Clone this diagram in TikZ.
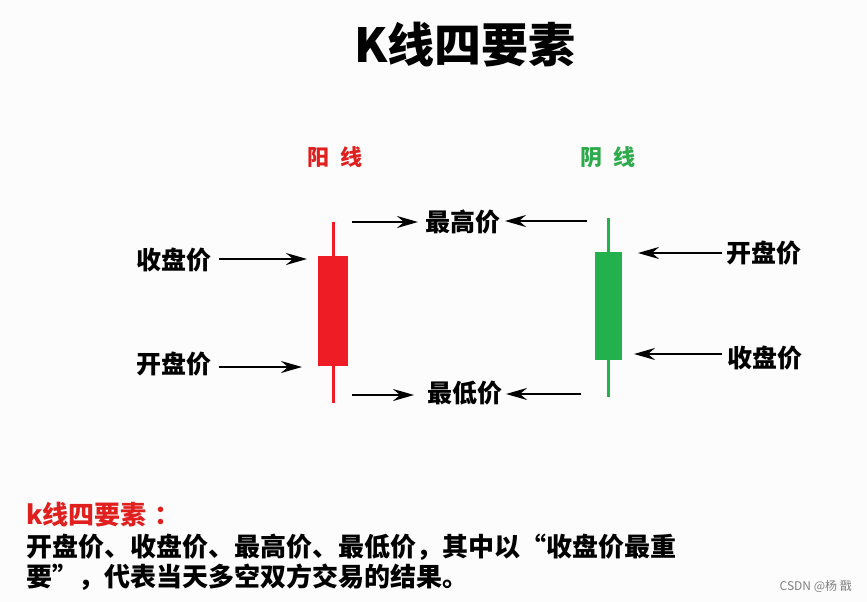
\documentclass[tikz,border=0pt]{standalone}
\usepackage{fontspec}
\setmainfont{Noto Sans CJK SC}
\usetikzlibrary{arrows.meta}
\definecolor{kred}{HTML}{EE1C24}
\definecolor{kgreen}{HTML}{22B14C}
\definecolor{tred}{HTML}{E0201F}
\definecolor{tgreen}{HTML}{2DAA4A}
\definecolor{bg}{HTML}{FCFCFD}
\tikzset{
  lbl/.style={font=\fontsize{25}{27}\selectfont\bfseries, inner sep=0pt},
  arr/.style={-{Stealth[length=21pt,width=12pt,inset=7pt]}, line width=2.2pt, black},
  wick/.style={line width=3pt},
}
\begin{document}
\begin{tikzpicture}[x=1pt,y=-1pt]
\fill[bg] (0,0) rectangle (867,602);
\useasboundingbox (0,0) rectangle (867,602);
% title
\node[font=\fontsize{47}{50}\selectfont\bfseries, inner sep=0pt] (title) at (465,45) {K线四要素};
\node[font=\fontsize{22}{24}\selectfont\bfseries, text=tred, inner sep=0pt] (yang) at (335,157) {阳\hspace{0.5em}线};
\node[font=\fontsize{22}{24}\selectfont\bfseries, text=tgreen, inner sep=0pt] (yin) at (608,157) {阴\hspace{0.5em}线};
% red candle
\coordinate (rtop) at (333,222);
\coordinate (rbot) at (333,403);
\draw[wick, kred] (rtop) -- (rbot);
\node[fill=kred, minimum width=30pt, minimum height=110pt, inner sep=0pt] (rbody) at (333,311) {};
% green candle
\coordinate (gtop) at (608,218);
\coordinate (gbot) at (608,397);
\draw[wick, kgreen] (gtop) -- (gbot);
\node[fill=kgreen, minimum width=27pt, minimum height=108pt, inner sep=0pt] (gbody) at (608.5,306) {};
% labels left
\node[lbl] (lclose) at (174,260) {收盘价};
\node[lbl] (lopen) at (174,364) {开盘价};
\coordinate (lcloseE) at (307,259);
\coordinate (lopenE) at (302,367);
\draw[arr] (219,259) -- (lcloseE);
\draw[arr] (219,367) -- (lopenE);
% high / low
\node[lbl] (high) at (463,222) {最高价};
\node[lbl] (low) at (465,393) {最低价};
\coordinate (hL) at (352,222);
\coordinate (hR) at (587,221);
\coordinate (lL) at (352,395);
\coordinate (lR) at (581,394);
\draw[arr] (hL) -- (418,222);
\draw[arr] (hR) -- (505,221);
\draw[arr] (lL) -- (414,395);
\draw[arr] (lR) -- (506,394);
% labels right
\node[lbl] (ropen) at (764,253) {开盘价};
\node[lbl] (rclose) at (765,358) {收盘价};
\draw[arr] (722,253) -- (638,253);
\draw[arr] (722,354) -- (634,354);
% bottom text
\node[anchor=west, font=\fontsize{26}{28}\selectfont\bfseries, text=tred, inner sep=0pt] (head) at (26,515) {k线四要素\hspace{0.3em}：};
\node[anchor=west, font=\fontsize{26}{28}\selectfont\bfseries, inner sep=0pt] (line1) at (26,547) {开盘价、收盘价、最高价、最低价，其中以“收盘价最重};
\node[anchor=west, font=\fontsize{26}{28}\selectfont\bfseries, inner sep=0pt] (line2) at (26,577) {要”，代表当天多空双方交易的结果。};
\node[anchor=east, font=\fontsize{12}{13}\selectfont, text=gray, inner sep=0pt] (wm) at (852,586) {CSDN @杨 戬};
\end{tikzpicture}
\end{document}
